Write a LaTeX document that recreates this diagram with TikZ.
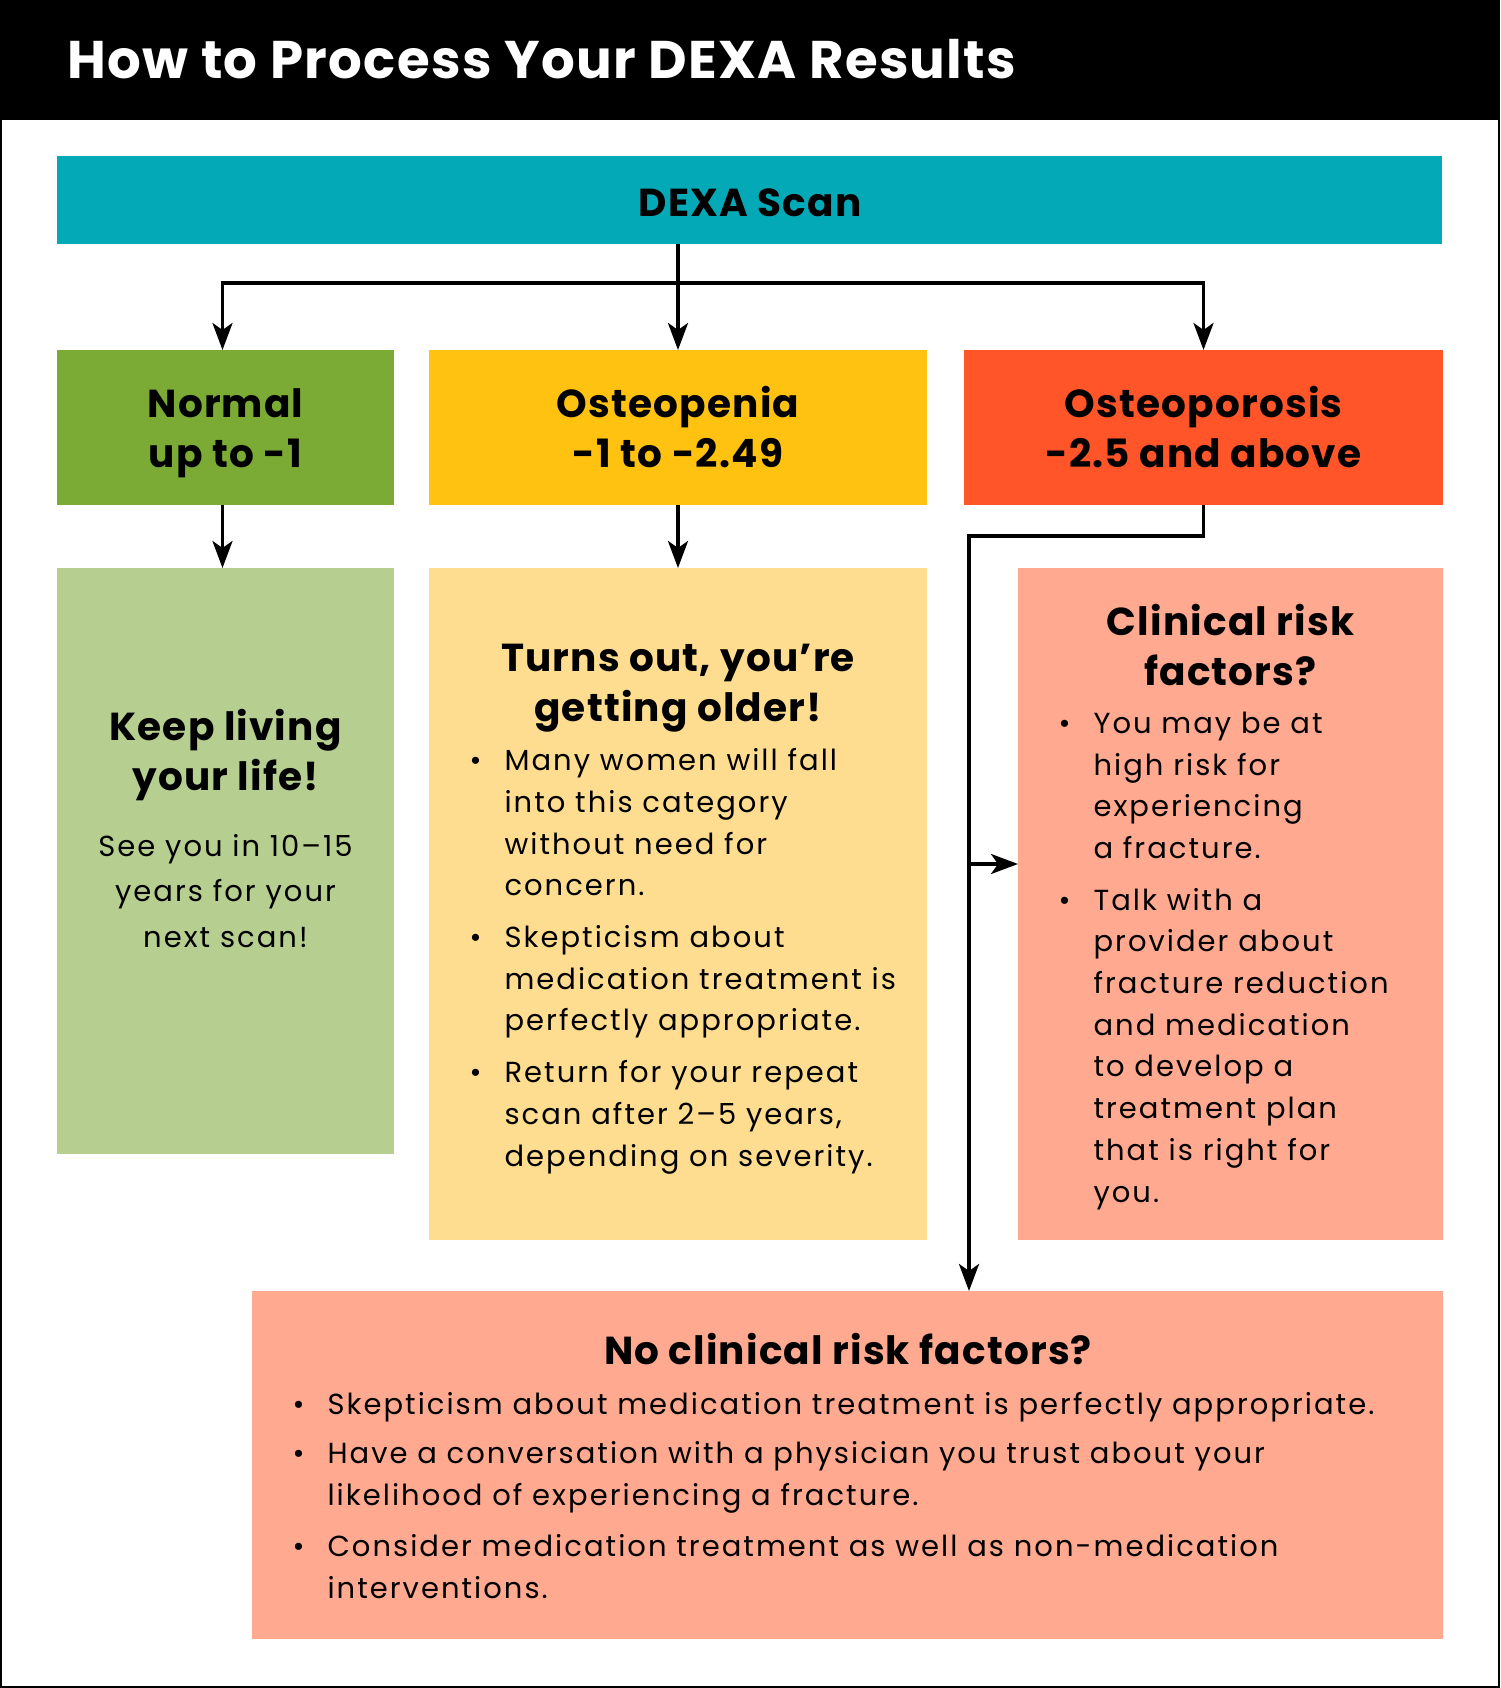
\documentclass[tikz,border=0pt]{standalone}
\usepackage{fontspec}
\setmainfont{Poppins}[LetterSpace=7]
\newfontfamily\headfont{Poppins}[LetterSpace=3]
\newfontfamily\titlefont{Poppins}[LetterSpace=2.5]
\usetikzlibrary{arrows.meta}
\definecolor{scanteal}{RGB}{3,169,182}
\definecolor{normgreen}{RGB}{123,170,53}
\definecolor{peniayellow}{RGB}{255,194,17}
\definecolor{porored}{RGB}{255,85,41}
\definecolor{keepgreen}{RGB}{183,206,145}
\definecolor{olderyellow}{RGB}{255,221,144}
\definecolor{risksalmon}{RGB}{255,169,144}
\tikzset{
  box/.style={anchor=north west,inner sep=0pt,outer sep=0pt},
  head/.style={font=\fontsize{39}{50}\headfont\bfseries,align=center,anchor=base},
  body/.style={font=\fontsize{29}{41.7}\selectfont,align=left,anchor=base west},
  conn/.style={line width=3.5pt,-{Stealth[length=27pt,width=20pt,inset=7pt]}},
}
\newcommand{\bul}{\llap{\textbullet\hspace{23pt}}}
\begin{document}
\begin{tikzpicture}[x=1pt,y=-1pt]
\useasboundingbox (0,0) rectangle (1500,1688);
% header
\fill[black] (0,0) rectangle (1500,120);
\draw[line width=2pt] (1,1) rectangle (1499,1687);
\node[anchor=base west,text=white,font=\fontsize{53}{60}\titlefont\bfseries] (title) at (64,79) {How to Process Your DEXA Results};
% boxes
\node[box,fill=scanteal,minimum width=1385pt,minimum height=88pt] (scan) at (57,156) {};
\node[box,fill=normgreen,minimum width=337pt,minimum height=155pt] (normal) at (57,350) {};
\node[box,fill=peniayellow,minimum width=498pt,minimum height=155pt] (penia) at (429,350) {};
\node[box,fill=porored,minimum width=479pt,minimum height=155pt] (porosis) at (964,350) {};
\node[box,fill=keepgreen,minimum width=337pt,minimum height=586pt] (keep) at (57,568) {};
\node[box,fill=olderyellow,minimum width=498pt,minimum height=672pt] (older) at (429,568) {};
\node[box,fill=risksalmon,minimum width=425pt,minimum height=672pt] (risk) at (1018,568) {};
\node[box,fill=risksalmon,minimum width=1191pt,minimum height=348pt] (norisk) at (252,1291) {};
% texts (base = last line)
\node[head] (scanT) at (750,217) {DEXA Scan};
\node[head] (normalT) at (225.5,467) {Normal\\up to -1};
\node[head] (peniaT) at (678,467) {Osteopenia\\-1 to -2.49};
\node[head] (porosisT) at (1203.5,467) {Osteoporosis\\-2.5 and above};
\node[head] (keepT) at (225.5,790) {Keep living\\your life!};
\node[body,font=\fontsize{29}{45.5}\selectfont,align=center,anchor=base] (keepB) at (225.5,947) {See you in 10--15\\years for your\\next scan!};
\node[head] (olderT) at (678,721) {Turns out, you’re\\getting older!};
\node[body] (olderB) at (501,1166) {\bul Many women will fall\\into this category\\without need for\\concern.\\[10pt]
\bul Skepticism about\\medication treatment is\\perfectly appropriate.\\[10pt]
\bul Return for your repeat\\scan after 2--5 years,\\depending on severity.};
\node[head] (riskT) at (1230.5,685) {Clinical risk\\factors?};
\node[body] (riskB) at (1090,1202) {\bul You may be at\\high risk for\\experiencing\\a fracture.\\[10pt]
\bul Talk with a\\provider about\\fracture reduction\\and medication\\to develop a\\treatment plan\\that is right for\\you.};
\node[head] (noriskT) at (848,1364) {No clinical risk factors?};
\node[body] (noriskB) at (324,1598) {\bul Skepticism about medication treatment is perfectly appropriate.\\[8pt]
\bul Have a conversation with a physician you trust about your\\likelihood of experiencing a fracture.\\[9pt]
\bul Consider medication treatment as well as non-medication\\interventions.};
% connectors
\coordinate (split) at (678,283);
\draw[line width=3.5pt] (scan.south -| split) -- (split);
\draw[conn] (split) -| ([xshift=-3pt]normal.north);
\draw[conn] (split) -- (penia.north);
\draw[conn] (split) -| (porosis.north);
\draw[conn] ([xshift=-3pt]normal.south) -- ([xshift=-3pt]keep.north);
\draw[conn] (penia.south) -- (older.north);
\coordinate (bend) at (969,536);
\coordinate (riskin) at (1018,864);
\draw[conn] (porosis.south) |- (bend) -- (bend |- norisk.north);
\draw[conn] (bend |- riskin) -- (riskin);
\end{tikzpicture}
\end{document}
